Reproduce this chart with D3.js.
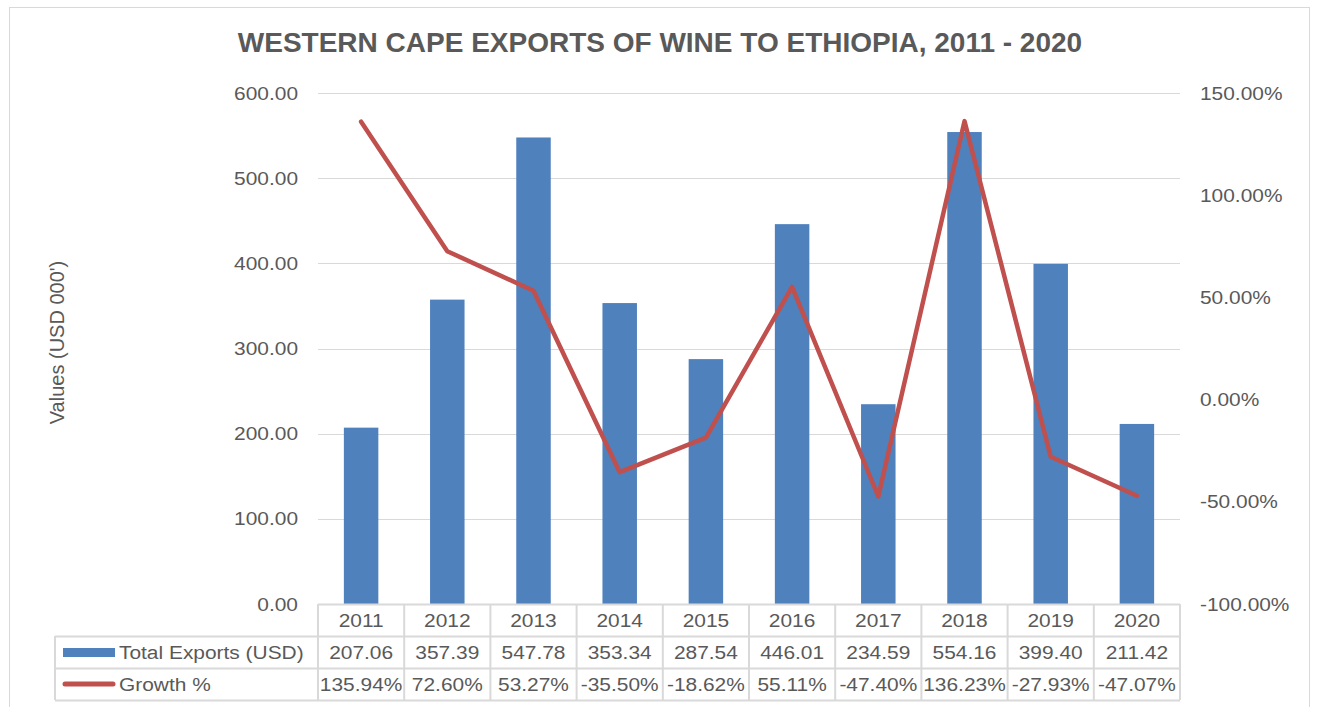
<!DOCTYPE html>
<html>
<head>
<meta charset="utf-8">
<script src="https://cdn.jsdelivr.net/npm/d3@7"></script>
<style>
  html, body { margin: 0; padding: 0; background: #fff; }
  svg { display: block; font-family: "Liberation Sans", Arial, sans-serif; }
</style>
</head>
<body>
<svg id="chart" width="1319" height="707"></svg>
<script>
// Chart data
const years = ["2011", "2012", "2013", "2014", "2015", "2016", "2017", "2018", "2019", "2020"];
const exportsUSD = [207.06, 357.39, 547.78, 353.34, 287.54, 446.01, 234.59, 554.16, 399.40, 211.42];
const growthPct = [135.94, 72.60, 53.27, -35.50, -18.62, 55.11, -47.40, 136.23, -27.93, -47.07];
const leftTicks = [0, 100, 200, 300, 400, 500, 600];
const rightTicks = [-100, -50, 0, 50, 100, 150];

const seriesNames = ["Total Exports (USD)", "Growth %"];

const barColor = "#4F81BD";
const lineColor = "#C0504D";
const textColor = "#595959";
const gridColor = "#D9D9D9";

const fontSize = 19;
const stretch = "scale(1.1,1)";
const fmt2 = v => d3.format(".2f")(v).replace("\u2212", "-");
const fmtPct = v => fmt2(v) + "%";

const svg = d3.select("#chart");

// Outer frame
svg.append("rect")
  .attr("x", 9.5).attr("y", 7.5)
  .attr("width", 1300).attr("height", 710)
  .attr("fill", "#fff").attr("stroke", gridColor).attr("stroke-width", 1);

const plot = { left: 318, right: 1180, top: 93, bottom: 604 };

const x = d3.scaleBand().domain(years).range([plot.left, plot.right]).paddingInner(0.6).paddingOuter(0.3);
const xCell = d3.scaleBand().domain(years).range([plot.left, plot.right]);
const yL = d3.scaleLinear().domain([0, 600]).range([plot.bottom, plot.top]);
const yR = d3.scaleLinear().domain([-100, 150]).range([plot.bottom, plot.top]);

// Title
svg.append("text")
  .attr("x", 660).attr("y", 52)
  .attr("text-anchor", "middle")
  .attr("font-size", 28).attr("font-weight", "bold")
  .attr("fill", textColor)
  .text("WESTERN CAPE EXPORTS OF WINE TO ETHIOPIA, 2011 - 2020");

// Gridlines
svg.append("g")
  .selectAll("line")
  .data(leftTicks.filter(d => d !== 0))
  .join("line")
  .attr("x1", plot.left).attr("x2", plot.right)
  .attr("y1", d => Math.round(yL(d)) + 0.5).attr("y2", d => Math.round(yL(d)) + 0.5)
  .attr("stroke", gridColor).attr("stroke-width", 1);

// Left axis
const leftAxis = svg.append("g")
  .attr("transform", `translate(${plot.left - 20},0)`)
  .call(d3.axisLeft(yL).tickValues(leftTicks).tickSize(0).tickPadding(0).tickFormat(fmt2));
leftAxis.select(".domain").remove();
leftAxis.selectAll("text")
  .attr("font-size", fontSize).attr("fill", textColor)
  .attr("font-family", "Liberation Sans, Arial, sans-serif")
  .attr("x", 0).attr("transform", stretch);

// Right axis
const rightAxis = svg.append("g")
  .attr("transform", `translate(${plot.right + 20},0)`)
  .call(d3.axisRight(yR).tickValues(rightTicks).tickSize(0).tickPadding(0).tickFormat(fmtPct));
rightAxis.select(".domain").remove();
rightAxis.selectAll("text")
  .attr("font-size", fontSize).attr("fill", textColor)
  .attr("font-family", "Liberation Sans, Arial, sans-serif")
  .attr("x", 0).attr("transform", stretch);

// Y axis title
svg.append("text")
  .attr("transform", `translate(64,${(plot.top + plot.bottom) / 2 - 6}) rotate(-90)`)
  .attr("text-anchor", "middle")
  .attr("font-size", 20).attr("fill", textColor)
  .text("Values (USD 000')");

// Bars
svg.append("g")
  .selectAll("rect")
  .data(years)
  .join("rect")
  .attr("x", d => x(d))
  .attr("width", x.bandwidth())
  .attr("y", (d, i) => yL(exportsUSD[i]))
  .attr("height", (d, i) => yL(0) - yL(exportsUSD[i]))
  .attr("fill", barColor);

// Growth line
const line = d3.line()
  .x((d, i) => x(years[i]) + x.bandwidth() / 2)
  .y(d => yR(d));
svg.append("path")
  .datum(growthPct)
  .attr("d", line)
  .attr("fill", "none")
  .attr("stroke", lineColor)
  .attr("stroke-width", 4.5)
  .attr("stroke-linejoin", "round")
  .attr("stroke-linecap", "round");

// Data table
const rowTop = plot.bottom, rowH = 32;
const tableLeft = 55;
const table = svg.append("g");
const hLines = [
  { y: rowTop, x1: plot.left, x2: plot.right },
  { y: rowTop + rowH, x1: tableLeft, x2: plot.right },
  { y: rowTop + 2 * rowH, x1: tableLeft, x2: plot.right },
  { y: rowTop + 3 * rowH, x1: tableLeft, x2: plot.right }
];
table.selectAll("line.h").data(hLines).join("line")
  .attr("class", "h")
  .attr("x1", d => d.x1).attr("x2", d => d.x2)
  .attr("y1", d => d.y + 0.5).attr("y2", d => d.y + 0.5)
  .attr("stroke", gridColor).attr("stroke-width", 2);
const vXs = years.map(d => xCell(d)).concat([plot.right]);
table.selectAll("line.v").data(vXs).join("line")
  .attr("class", "v")
  .attr("x1", d => d).attr("x2", d => d)
  .attr("y1", rowTop).attr("y2", rowTop + 3 * rowH)
  .attr("stroke", gridColor).attr("stroke-width", 2);
table.append("line")
  .attr("x1", tableLeft).attr("x2", tableLeft)
  .attr("y1", rowTop + rowH).attr("y2", rowTop + 3 * rowH)
  .attr("stroke", gridColor).attr("stroke-width", 2);

const baseOff = 0.36 * fontSize;
function cellText(cls, values, row, format) {
  table.selectAll("text." + cls).data(values).join("text")
    .attr("class", cls)
    .attr("transform", (d, i) =>
      `translate(${xCell(years[i]) + xCell.bandwidth() / 2},${rowTop + rowH * (row + 0.5) + baseOff}) ${stretch}`)
    .attr("text-anchor", "middle")
    .attr("font-size", fontSize).attr("fill", textColor)
    .text(format);
}
cellText("year", years, 0, d => d);
cellText("exp", exportsUSD, 1, fmt2);
cellText("gr", growthPct, 2, fmtPct);

// Legend keys in row headers
table.append("rect")
  .attr("x", 63).attr("y", rowTop + rowH * 1.5 - 4)
  .attr("width", 52).attr("height", 9)
  .attr("fill", barColor);
table.append("line")
  .attr("x1", 65).attr("x2", 113)
  .attr("y1", rowTop + rowH * 2.5).attr("y2", rowTop + rowH * 2.5)
  .attr("stroke", lineColor).attr("stroke-width", 5).attr("stroke-linecap", "round");
table.selectAll("text.lbl").data(seriesNames).join("text")
  .attr("class", "lbl")
  .attr("transform", (d, i) => `translate(119,${rowTop + rowH * (1.5 + i) + baseOff}) ${stretch}`)
  .attr("font-size", fontSize).attr("fill", textColor)
  .text(d => d);
</script>
</body>
</html>
